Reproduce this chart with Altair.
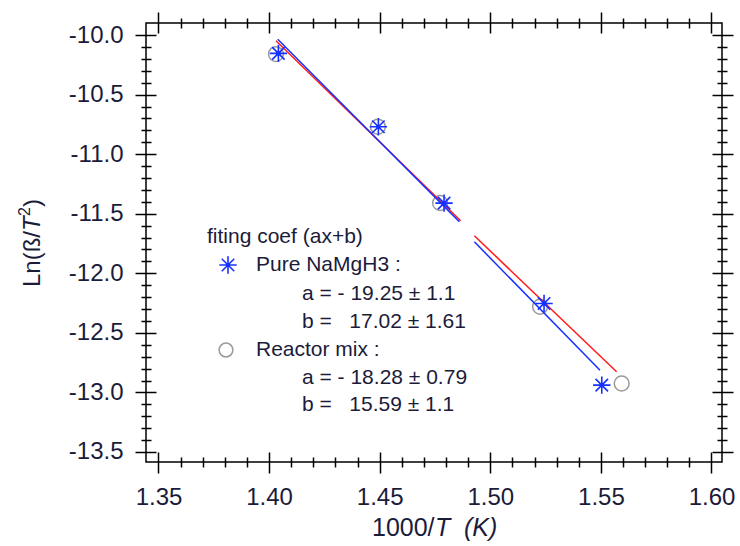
import altair as alt
import pandas as pd

# ---------------- data ----------------
x_pure = [1.4042, 1.4494, 1.4791, 1.5243, 1.5504]
y_pure = [-10.154, -10.770, -11.411, -12.253, -12.939]

x_reac = [1.4031, 1.4492, 1.4773, 1.5225, 1.5594]
y_reac = [-10.160, -10.770, -11.410, -12.281, -12.925]

# fitted lines (drawn with a small break, as in the picture)
x_fit_pure = [1.4039, 1.4860, 1.4928, 1.5496]
y_fit_pure = [-10.036, -11.568, -11.736, -12.813]
x_fit_reac = [1.4031, 1.4866, 1.4928, 1.5571]
y_fit_reac = [-10.048, -11.559, -11.685, -12.827]
fit_segment = [0, 0, 1, 1]

x_major = [1.35, 1.40, 1.45, 1.50, 1.55, 1.60]
x_minor = [1.36, 1.37, 1.38, 1.39, 1.41, 1.42, 1.43, 1.44, 1.46, 1.47,
           1.48, 1.49, 1.51, 1.52, 1.53, 1.54, 1.56, 1.57, 1.58, 1.59]
y_major = [-10.0, -10.5, -11.0, -11.5, -12.0, -12.5, -13.0, -13.5]
y_minor = [-10.1, -10.2, -10.3, -10.4, -10.6, -10.7, -10.8, -10.9,
           -11.1, -11.2, -11.3, -11.4, -11.6, -11.7, -11.8, -11.9,
           -12.1, -12.2, -12.3, -12.4, -12.6, -12.7, -12.8, -12.9,
           -13.1, -13.2, -13.3, -13.4]

legend_title = "fiting coef (ax+b)"
series_names = ["Pure NaMgH3 :", "Reactor mix :"]
coef_lines = [["a = - 19.25 ± 1.1", "b =\u00a0\u00a0\u00a017.02 ± 1.61"],
              ["a = - 18.28 ± 0.79", "b =\u00a0\u00a0\u00a015.59 ± 1.1"]]

# ---------------- layout ----------------
W, H = 576, 439
X_DOMAIN = [1.34435, 1.60475]
Y_DOMAIN = [-13.584, -9.899]
FONT = "Liberation Sans"
TXT = "#1b1b3a"
BLUE = "#1530ff"
RED = "#ff1a1a"
GREY = "#9a9a9a"

xs = alt.Scale(domain=X_DOMAIN, nice=False, zero=False)
ys = alt.Scale(domain=Y_DOMAIN, nice=False, zero=False)


def ax(orient, values, size, offset, label_expr=None):
    kw = dict(orient=orient, values=values, tickSize=size, offset=offset,
              domain=False, grid=False, title=None, ticks=True,
              tickColor="black", tickWidth=1.5)
    if label_expr:
        kw.update(labels=True, labelExpr=label_expr, labelFont=FONT,
                  labelFontSize=24, labelColor=TXT, labelPadding=12,
                  labelOverlap=False, labelFlush=False, labelBound=False)
    else:
        kw.update(labels=False)
    return alt.Axis(**kw)


XLAB = "format(datum.value, '.2f')"
YLAB = "replace(format(datum.value, '.1f'), '\u2212', '-')"

pure_df = pd.DataFrame({"x": x_pure, "y": y_pure})
reac_df = pd.DataFrame({"x": x_reac, "y": y_reac})
fitp_df = pd.DataFrame({"x": x_fit_pure, "y": y_fit_pure, "seg": fit_segment})
fitr_df = pd.DataFrame({"x": x_fit_reac, "y": y_fit_reac, "seg": fit_segment})


def enc(ch, xa, ya):
    return ch.encode(x=alt.X("x:Q", scale=xs, axis=xa),
                     y=alt.Y("y:Q", scale=ys, axis=ya))


ASTERISK = "M-1,0L1,0M0,-1L0,1M-0.72,-0.72L0.72,0.72M-0.72,0.72L0.72,-0.72"

circles = enc(
    alt.Chart(reac_df).mark_point(shape="circle", filled=False, size=220,
                                  color=GREY, strokeWidth=1.5, opacity=1),
    ax("bottom", x_major, 21, -10, XLAB), ax("left", y_major, 21, -10, YLAB))

red_line = enc(
    alt.Chart(fitr_df).mark_line(color=RED, strokeWidth=1.5),
    ax("bottom", x_minor, 10, -5), ax("left", y_minor, 10, -5)).encode(detail="seg:N")

blue_line = enc(
    alt.Chart(fitp_df).mark_line(color=BLUE, strokeWidth=1.5),
    ax("top", x_major, 21, -10), ax("right", y_major, 21, -10)).encode(detail="seg:N")

stars = enc(
    alt.Chart(pure_df).mark_point(shape=ASTERISK, filled=False, size=300,
                                  color=BLUE, strokeWidth=1.6, opacity=1),
    ax("top", x_minor, 10, -5), ax("right", y_minor, 10, -5))

dots = enc(
    alt.Chart(pure_df).mark_point(shape="circle", filled=True, size=18,
                                  color=BLUE, opacity=1),
    None, None)

layers = [circles, red_line, blue_line, stars, dots]

# ---------------- annotation legend ----------------
one = pd.DataFrame({"k": [0]})


def label(text, px, py, size=21, style="normal", angle=0, align="left",
          baseline="middle"):
    return alt.Chart(one).mark_text(
        text=text, font=FONT, fontSize=size, fontStyle=style, color=TXT,
        align=align, baseline=baseline, angle=angle
    ).encode(x=alt.value(px), y=alt.value(py))


layers.append(label(legend_title, 61, 214))
layers.append(label(series_names[0], 110, 242))
layers.append(label(coef_lines[0][0], 156, 271))
layers.append(label(coef_lines[0][1], 156, 299))
layers.append(label(series_names[1], 110, 327))
layers.append(label(coef_lines[1][0], 156, 355))
layers.append(label(coef_lines[1][1], 156, 382))

layers.append(alt.Chart(one).mark_point(shape=ASTERISK, filled=False, size=300,
                                        color=BLUE, strokeWidth=1.6, opacity=1)
              .encode(x=alt.value(82), y=alt.value(242)))
layers.append(alt.Chart(one).mark_point(shape="circle", filled=True, size=18,
                                        color=BLUE, opacity=1)
              .encode(x=alt.value(82), y=alt.value(242)))
layers.append(alt.Chart(one).mark_point(shape="circle", filled=False, size=190,
                                        color=GREY, strokeWidth=1.5, opacity=1)
              .encode(x=alt.value(80), y=alt.value(327)))

# ---------------- axis titles ----------------
layers.append(label("1000/", 226, 505, size=25))
layers.append(label("T", 289, 505, size=25, style="italic"))
layers.append(label("(K)", 318, 505, size=25, style="italic"))

layers.append(label("Ln(ß/", -106, 264, size=24, angle=270, baseline="alphabetic"))
layers.append(label("T", -106, 208, size=24, style="italic", angle=270, baseline="alphabetic"))
layers.append(label("2", -116, 193, size=16, angle=270, baseline="alphabetic"))
layers.append(label(")", -106, 184, size=24, angle=270, baseline="alphabetic"))

chart = (
    alt.layer(*layers)
    .resolve_axis(x="independent", y="independent")
    .properties(width=W, height=H,
                autosize=alt.AutoSizeParams(type="none"),
                padding={"left": 146, "top": 23, "right": 18, "bottom": 84},
                background="white")
    .configure_view(stroke="black", strokeWidth=1.5)
)

chart.save("out.html", embed_options={"renderer": "svg", "actions": False})
